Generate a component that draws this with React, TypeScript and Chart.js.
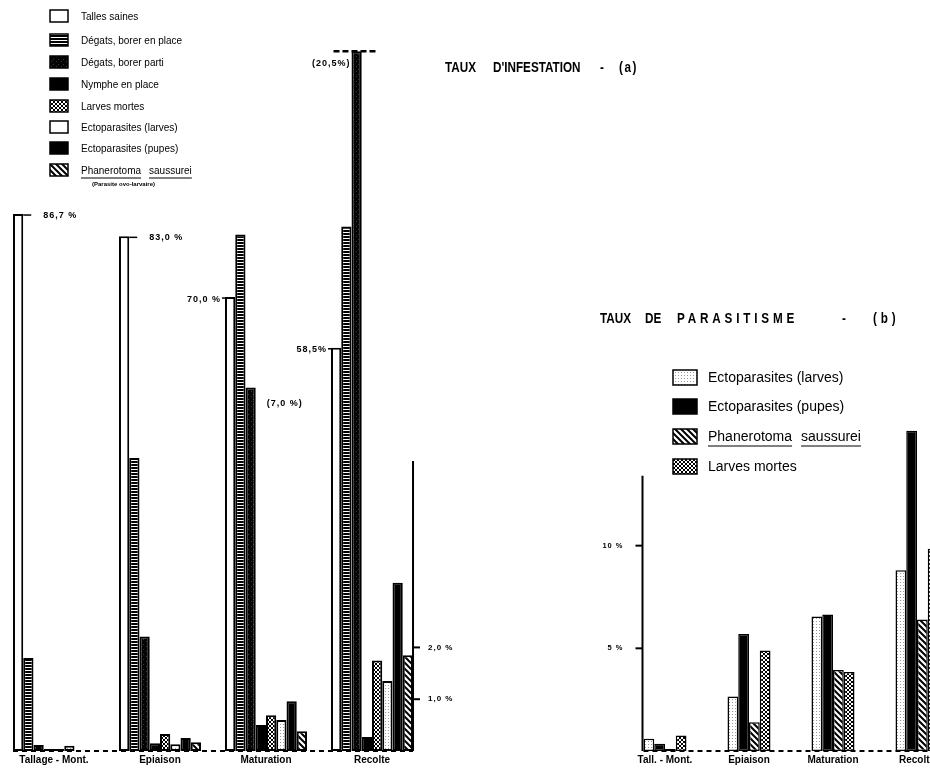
import React, { useEffect, useRef } from "react";
import { Chart, registerables } from "chart.js";

Chart.register(...registerables);

// ---------- (a) TAUX D'INFESTATION ----------
const STAGES_A = ["Tallage - Mont.", "Epiaison", "Maturation", "Recolte"];
const LEGEND_A = [
  "Talles saines",
  "Dégats, borer en place",
  "Dégats, borer parti",
  "Nymphe en place",
  "Larves mortes",
  "Ectoparasites (larves)",
  "Ectoparasites (pupes)",
  "Phanerotoma saussurei",
];
const LEGEND_A_NOTE = "(Parasite ovo-larvaire)";

// tall bars (main scale)
const TALLES_SAINES = [86.7, 83.1, 73.3, 65.1];
const DEGATS_EN_PLACE = [15.0, 47.3, 83.4, 84.7];
const DEGATS_PARTI = [0.96, 18.5, 58.7, 113];
// small bars (% scale on the right)
const NYMPHE = [0.04, 0.15, 0.5, 0.27];
const LARVES_MORTES_A = [0.04, 0.33, 0.69, 1.75];
const ECTO_LARVES_A = [0.1, 0.13, 0.6, 1.35];
const ECTO_PUPES_A = [0, 0.25, 0.96, 3.25];
const PHANEROTOMA_A = [0, 0.17, 0.38, 1.85];

const SAINES_LABELS = ["86,7 %", "83,0 %", "70,0 %", "58,5%"];
const PARTI_LABELS = ["", "", "(7,0 %)", "(20,5%)"];
const SMALL_TICKS_A = [1, 2];
const SMALL_TICK_LABELS_A = ["1,0 %", "2,0 %"];
const SMALL_AXIS_TOP_A = 5.6;

// ---------- (b) TAUX DE PARASITISME ----------
const STAGES_B = ["Tall. - Mont.", "Epiaison", "Maturation", "Recolte"];
const LEGEND_B = [
  "Ectoparasites (larves)",
  "Ectoparasites (pupes)",
  "Phanerotoma saussurei",
  "Larves mortes",
];
const ECTO_LARVES_B = [0.6, 2.65, 6.55, 8.8];
const ECTO_PUPES_B = [0.35, 5.7, 6.65, 15.6];
const PHANEROTOMA_B = [0.1, 1.4, 3.95, 6.4];
const LARVES_MORTES_B = [0.75, 4.9, 3.85, 9.85];
const TICKS_B = [5, 10];
const TICK_LABELS_B = ["5 %", "10 %"];
const AXIS_TOP_B = 13.4;

const FONT = '"Liberation Sans", Arial, sans-serif';

function makePatterns() {
  const mk = (w: number, h: number, draw: (g: CanvasRenderingContext2D) => void) => {
    const c = document.createElement("canvas");
    c.width = w;
    c.height = h;
    const g = c.getContext("2d")!;
    draw(g);
    return g.createPattern(c, "repeat") as CanvasPattern;
  };
  return {
    white: "#ffffff" as any,
    black: "#000000" as any,
    stripes: mk(4, 3, (g) => {
      g.fillStyle = "#000";
      g.fillRect(0, 0, 4, 3);
      g.fillStyle = "#fff";
      g.fillRect(0, 1, 4, 1);
    }),
    darkdots: mk(5, 5, (g) => {
      g.fillStyle = "#050505";
      g.fillRect(0, 0, 5, 5);
      g.fillStyle = "#3a3a3a";
      g.fillRect(1, 1, 1, 1);
      g.fillRect(3, 4, 1, 1);
    }),
    cross: mk(4, 4, (g) => {
      g.fillStyle = "#fff";
      g.fillRect(0, 0, 4, 4);
      g.strokeStyle = "#000";
      g.lineWidth = 1;
      g.beginPath();
      g.moveTo(0, 0);
      g.lineTo(4, 4);
      g.moveTo(4, 0);
      g.lineTo(0, 4);
      g.stroke();
    }),
    dots: mk(3, 3, (g) => {
      g.fillStyle = "#fff";
      g.fillRect(0, 0, 3, 3);
      g.fillStyle = "#9a9a9a";
      g.fillRect(1, 1, 1, 1);
    }),
    hatch: mk(6, 6, (g) => {
      g.fillStyle = "#fff";
      g.fillRect(0, 0, 6, 6);
      g.strokeStyle = "#000";
      g.lineWidth = 2;
      g.beginPath();
      g.moveTo(-1, -1);
      g.lineTo(7, 7);
      g.moveTo(-4, 2);
      g.lineTo(4, 10);
      g.moveTo(2, -4);
      g.lineTo(10, 4);
      g.stroke();
    }),
  };
}

function barBox(chart: any, ds: number, i: number) {
  const el: any = chart.getDatasetMeta(ds).data[i];
  const p = el.getProps(["x", "y", "width", "base"], true);
  return { left: p.x - p.width / 2, right: p.x + p.width / 2, top: p.y, base: p.base, x: p.x };
}

function underlined(ctx: CanvasRenderingContext2D, words: string[], x: number, y: number, gap: number, offset: number) {
  let cx = x;
  for (const w of words) {
    ctx.fillText(w, cx, y);
    const wd = ctx.measureText(w).width;
    ctx.beginPath();
    ctx.moveTo(cx, y + offset);
    ctx.lineTo(cx + wd, y + offset);
    ctx.stroke();
    cx += wd + gap;
  }
}

const pluginA = {
  id: "annotA",
  beforeDatasetsDraw(chart: any) {
    const ctx = chart.ctx as CanvasRenderingContext2D;
    const y0 = chart.scales.y.getPixelForValue(0);
    const a = barBox(chart, 0, 0);
    const b = barBox(chart, 7, 3);
    ctx.save();
    ctx.strokeStyle = "#000";
    ctx.lineWidth = 2;
    ctx.setLineDash([5, 4]);
    ctx.beginPath();
    ctx.moveTo(a.left, y0);
    ctx.lineTo(b.right, y0);
    ctx.stroke();
    ctx.restore();
  },
  afterDatasetsDraw(chart: any) {
    const ctx = chart.ctx as CanvasRenderingContext2D;
    ctx.save();
    ctx.fillStyle = "#000";
    ctx.strokeStyle = "#000";
    ctx.lineWidth = 1.5;
    ctx.textBaseline = "middle";
    ctx.font = `bold 9px ${FONT}`;
    (ctx as any).letterSpacing = "1px";
    // labels of "Talles saines"
    SAINES_LABELS.forEach((t, i) => {
      const bb = barBox(chart, 0, i);
      if (i < 2) {
        ctx.beginPath();
        ctx.moveTo(bb.right, bb.top + 1);
        ctx.lineTo(bb.right + 8, bb.top + 1);
        ctx.stroke();
        ctx.textAlign = "left";
        ctx.fillText(t, bb.right + 20, bb.top + 1);
      } else {
        ctx.beginPath();
        ctx.moveTo(bb.left - 3, bb.top + 1);
        ctx.lineTo(bb.left, bb.top + 1);
        ctx.stroke();
        ctx.textAlign = "right";
        ctx.fillText(t, bb.left - 4, bb.top + 2);
      }
    });
    // labels of "Dégats, borer parti"
    PARTI_LABELS.forEach((t, i) => {
      if (!t) return;
      const bb = barBox(chart, 2, i);
      if (i === 2) {
        ctx.textAlign = "left";
        ctx.fillText(t, bb.right + 11, bb.top + 16);
      } else {
        ctx.textAlign = "right";
        ctx.fillText(t, bb.left - 1, bb.top + 12);
        ctx.save();
        ctx.lineWidth = 2.5;
        ctx.setLineDash([6, 3]);
        ctx.beginPath();
        ctx.moveTo(bb.left - 18, bb.top);
        ctx.lineTo(bb.right + 15, bb.top);
        ctx.stroke();
        ctx.restore();
      }
    });
    (ctx as any).letterSpacing = "0px";
    // small-value axis at the right
    const y2 = chart.scales.y2;
    const lb = barBox(chart, 7, 3);
    const ax = lb.right;
    ctx.lineWidth = 2;
    ctx.beginPath();
    ctx.moveTo(ax, y2.getPixelForValue(0));
    ctx.lineTo(ax, y2.getPixelForValue(SMALL_AXIS_TOP_A));
    ctx.stroke();
    ctx.font = `bold 8px ${FONT}`;
    ctx.textAlign = "left";
    (ctx as any).letterSpacing = "1px";
    SMALL_TICKS_A.forEach((v, k) => {
      const py = y2.getPixelForValue(v);
      ctx.beginPath();
      ctx.moveTo(ax, py);
      ctx.lineTo(ax + 7, py);
      ctx.stroke();
      ctx.fillText(SMALL_TICK_LABELS_A[k], ax + 15, py);
    });
    (ctx as any).letterSpacing = "0px";
    // legend
    const ly = [16, 40, 62, 84, 106, 127, 148, 170];
    ctx.font = `10px ${FONT}`;
    LEGEND_A.forEach((name, i) => {
      const ds = chart.data.datasets[i];
      const fill = i === 5 ? "#fff" : ds.backgroundColor;
      ctx.fillStyle = fill;
      ctx.fillRect(50, ly[i] - 6, 18, 12);
      ctx.fillStyle = "#000";
      ctx.lineWidth = 1.5;
      ctx.strokeRect(50, ly[i] - 6, 18, 12);
      ctx.textAlign = "left";
      if (i === 7) {
        ctx.lineWidth = 1;
        underlined(ctx, name.split(" "), 81, ly[i] + 1, 8, 7);
      } else {
        ctx.fillText(name, 81, ly[i] + 1);
      }
    });
    ctx.font = `bold 6px ${FONT}`;
    ctx.fillText(LEGEND_A_NOTE, 92, 184);
    ctx.restore();
  },
};

const pluginB = {
  id: "annotB",
  beforeDatasetsDraw(chart: any) {
    const ctx = chart.ctx as CanvasRenderingContext2D;
    const y0 = chart.scales.y.getPixelForValue(0);
    const a = barBox(chart, 0, 0);
    ctx.save();
    ctx.strokeStyle = "#000";
    ctx.lineWidth = 2;
    ctx.setLineDash([5, 4]);
    ctx.beginPath();
    ctx.moveTo(a.left, y0);
    ctx.lineTo(chart.width, y0);
    ctx.stroke();
    ctx.restore();
  },
  afterDatasetsDraw(chart: any) {
    const ctx = chart.ctx as CanvasRenderingContext2D;
    const ys = chart.scales.y;
    const a = barBox(chart, 0, 0);
    const ax = a.left - 1;
    ctx.save();
    ctx.strokeStyle = "#000";
    ctx.fillStyle = "#000";
    ctx.lineWidth = 2;
    ctx.beginPath();
    ctx.moveTo(ax, ys.getPixelForValue(0));
    ctx.lineTo(ax, ys.getPixelForValue(AXIS_TOP_B));
    ctx.stroke();
    ctx.font = `bold 7.5px ${FONT}`;
    ctx.textAlign = "right";
    ctx.textBaseline = "middle";
    (ctx as any).letterSpacing = "1px";
    TICKS_B.forEach((v, k) => {
      const py = ys.getPixelForValue(v);
      ctx.beginPath();
      ctx.moveTo(ax - 7, py);
      ctx.lineTo(ax, py);
      ctx.stroke();
      ctx.fillText(TICK_LABELS_B[k], ax - 19, py);
    });
    (ctx as any).letterSpacing = "0px";
    // legend
    const ly = [88, 117, 147, 177];
    ctx.font = `14px ${FONT}`;
    ctx.textAlign = "left";
    LEGEND_B.forEach((name, i) => {
      const ds = chart.data.datasets[i];
      ctx.fillStyle = ds.backgroundColor;
      ctx.fillRect(113, ly[i] - 8, 24, 15);
      ctx.fillStyle = "#000";
      ctx.lineWidth = 1.5;
      ctx.strokeRect(113, ly[i] - 8, 24, 15);
      if (i === 2) {
        ctx.lineWidth = 1;
        underlined(ctx, name.split(" "), 148, ly[i], 9, 9);
      } else {
        ctx.fillText(name, 148, ly[i]);
      }
    });
    ctx.restore();
  },
};

export default function App() {
  const refA = useRef<HTMLCanvasElement>(null);
  const refB = useRef<HTMLCanvasElement>(null);

  useEffect(() => {
    const P = makePatterns();
    const common = { borderColor: "#000", borderSkipped: false as const, barPercentage: 1 };
    const dsA = [
      { label: LEGEND_A[0], data: TALLES_SAINES, backgroundColor: P.white, yAxisID: "y" },
      { label: LEGEND_A[1], data: DEGATS_EN_PLACE, backgroundColor: P.stripes, yAxisID: "y" },
      { label: LEGEND_A[2], data: DEGATS_PARTI, backgroundColor: P.darkdots, yAxisID: "y" },
      { label: LEGEND_A[3], data: NYMPHE, backgroundColor: P.black, yAxisID: "y2" },
      { label: LEGEND_A[4], data: LARVES_MORTES_A, backgroundColor: P.cross, yAxisID: "y2" },
      { label: LEGEND_A[5], data: ECTO_LARVES_A, backgroundColor: P.dots, yAxisID: "y2" },
      { label: LEGEND_A[6], data: ECTO_PUPES_A, backgroundColor: P.black, yAxisID: "y2" },
      { label: LEGEND_A[7], data: PHANEROTOMA_A, backgroundColor: P.hatch, yAxisID: "y2" },
    ].map((d) => ({ ...d, ...common, borderWidth: 2, categoryPercentage: 0.774 }));

    const tickFont = { family: FONT, size: 10, weight: "bold" as const };

    const chartA = new Chart(refA.current!, {
      type: "bar",
      data: { labels: STAGES_A, datasets: dsA as any },
      options: {
        animation: false,
        responsive: false,
        layout: { padding: { top: 40, left: 1, right: 45, bottom: 4 } },
        plugins: { legend: { display: false }, tooltip: { enabled: false } },
        scales: {
          x: {
            grid: { display: false, drawTicks: false },
            border: { display: false },
            ticks: { color: "#000", font: tickFont, padding: 3, maxRotation: 0, autoSkip: false },
          },
          y: { display: false, min: 0, max: 114.8 },
          y2: { display: false, min: 0, max: 13.73 },
        },
      },
      plugins: [pluginA as any],
    });

    const dsB = [
      { label: LEGEND_B[0], data: ECTO_LARVES_B, backgroundColor: P.dots },
      { label: LEGEND_B[1], data: ECTO_PUPES_B, backgroundColor: P.black },
      { label: LEGEND_B[2], data: PHANEROTOMA_B, backgroundColor: P.hatch },
      { label: LEGEND_B[3], data: LARVES_MORTES_B, backgroundColor: P.cross },
    ].map((d) => ({ ...d, ...common, borderWidth: 1.5, categoryPercentage: 0.512 }));

    const chartB = new Chart(refB.current!, {
      type: "bar",
      data: { labels: STAGES_B, datasets: dsB as any },
      options: {
        animation: false,
        responsive: false,
        layout: { padding: { top: 100, left: 63, right: 1, bottom: 4 } },
        plugins: { legend: { display: false }, tooltip: { enabled: false } },
        scales: {
          x: {
            grid: { display: false, drawTicks: false },
            border: { display: false },
            ticks: { color: "#000", font: tickFont, padding: 3, maxRotation: 0, autoSkip: false },
          },
          y: { display: false, min: 0, max: 17.58 },
        },
      },
      plugins: [pluginB as any],
    });

    return () => {
      chartA.destroy();
      chartB.destroy();
    };
  }, []);

  const title: React.CSSProperties = {
    position: "absolute",
    fontFamily: FONT,
    fontWeight: "bold",
    fontSize: 15,
    lineHeight: "15px",
    whiteSpace: "nowrap",
    color: "#000",
    transformOrigin: "left top",
    transform: "scaleX(0.78)",
  };

  return (
    <div
      style={{
        position: "absolute",
        left: 0,
        top: 0,
        width: 930,
        height: 773,
        overflow: "hidden",
        background: "#fff",
      }}
    >
      <canvas ref={refA} width={470} height={773} style={{ position: "absolute", left: 0, top: 0 }} />
      <canvas ref={refB} width={400} height={483} style={{ position: "absolute", left: 560, top: 290 }} />
      <span style={{ ...title, left: 445, top: 59 }}>TAUX</span>
      <span style={{ ...title, left: 493, top: 59 }}>D'INFESTATION</span>
      <span style={{ ...title, left: 600, top: 59 }}>-</span>
      <span style={{ ...title, left: 619, top: 59, letterSpacing: 2 }}>(a)</span>
      <span style={{ ...title, left: 600, top: 310 }}>TAUX</span>
      <span style={{ ...title, left: 645, top: 310 }}>DE</span>
      <span style={{ ...title, left: 677, top: 310, letterSpacing: 4.9 }}>PARASITISME</span>
      <span style={{ ...title, left: 842, top: 310 }}>-</span>
      <span style={{ ...title, left: 873, top: 310, letterSpacing: 5 }}>(b)</span>
    </div>
  );
}
